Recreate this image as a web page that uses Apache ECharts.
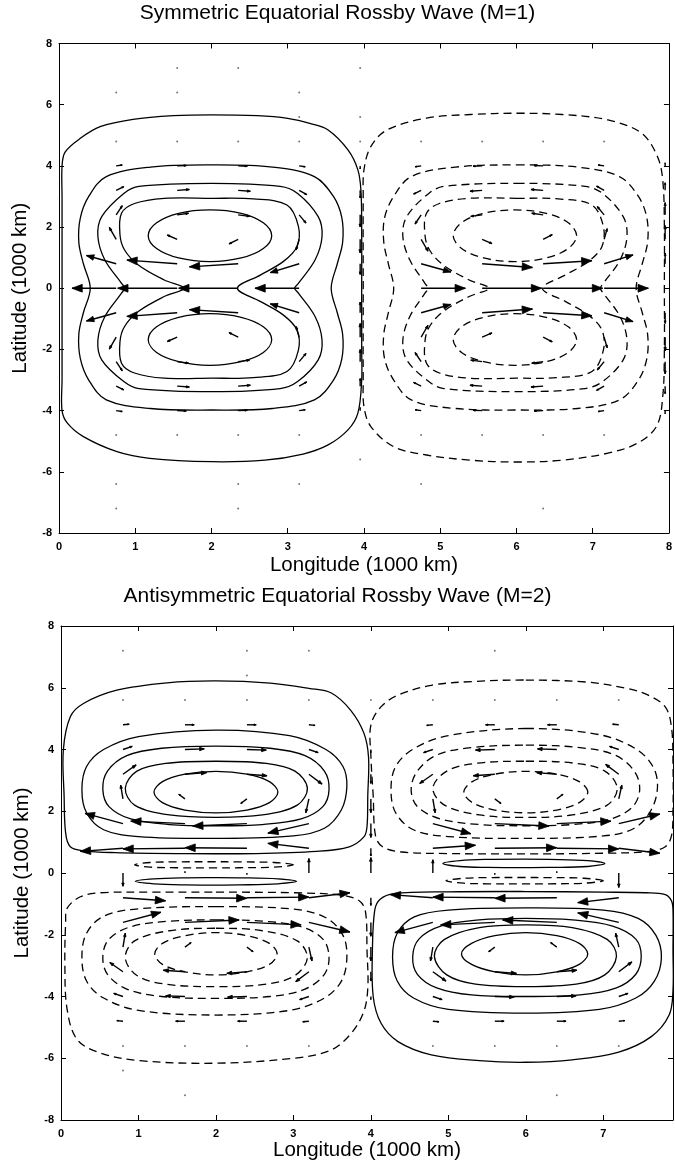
<!DOCTYPE html>
<html><head><meta charset="utf-8">
<script src="https://cdn.jsdelivr.net/npm/echarts@6/dist/echarts.min.js"></script>
<style>html,body{margin:0;padding:0;background:#fff}#c{width:675px;height:1170px}</style>
</head><body><div id="c"></div>
<script>
// ---------- Titles and axis texts ----------
const titleTop = 'Symmetric Equatorial Rossby Wave (M=1)';
const titleBottom = 'Antisymmetric Equatorial Rossby Wave (M=2)';
const xName = 'Longitude (1000 km)';
const yName = 'Latitude (1000 km)';

// ---------- Panel 1 (M=1) contour lines ----------
const m1SolidA = [[2.0,5.67],[2.6,5.64],[3.0,5.55],[3.3,5.38],[3.53,5.17],[3.79,4.52],[3.92,3.87],[3.96,3.2],[3.97,2.0],[3.97,0],[3.97,-2.0],[3.97,-3.0],[3.92,-4.08],[3.79,-4.63],[3.53,-5.12],[3.2,-5.42],[2.7,-5.62],[2.0,-5.67],[1.19,-5.56],[0.76,-5.34],[0.32,-4.85],[0.11,-4.41],[0.04,-4.0],[0.04,-3.0],[0.04,0],[0.04,3.0],[0.04,3.98],[0.08,4.45],[0.28,4.9],[0.54,5.28],[0.97,5.52],[1.5,5.64]];
const m1SolidB = [[2.0,4.03],[2.8,3.96],[3.35,3.65],[3.6,3.0],[3.71,2.3],[3.72,1.5],[3.65,0.8],[3.57,0],[3.65,-0.8],[3.72,-1.5],[3.71,-2.3],[3.6,-3.0],[3.35,-3.65],[2.8,-3.93],[2.0,-3.98],[1.2,-3.93],[0.62,-3.65],[0.39,-3.0],[0.28,-2.3],[0.26,-1.5],[0.32,-0.8],[0.41,0],[0.32,0.8],[0.26,1.5],[0.28,2.3],[0.39,3.0],[0.62,3.65],[1.2,3.96]];
const m1SolidC = [[2.0,3.43],[2.9,3.33],[3.13,3.1],[3.4,2.34],[3.45,1.69],[3.36,0.93],[3.14,0.16],[3.09,0],[3.14,-0.16],[3.36,-0.93],[3.45,-1.69],[3.4,-2.34],[3.13,-3.05],[2.9,-3.28],[2.0,-3.38],[1.05,-3.28],[0.85,-3.05],[0.56,-2.34],[0.51,-1.69],[0.6,-0.93],[0.82,-0.16],[0.86,0],[0.82,0.16],[0.6,0.93],[0.51,1.69],[0.56,2.34],[0.85,3.1],[1.05,3.33]];
const m1SolidD = [[2.0,2.94],[2.55,2.92],[2.99,2.72],[3.14,2.02],[3.12,1.36],[2.94,0.87],[2.64,0.43],[2.34,0],[2.64,-0.43],[2.94,-0.87],[3.12,-1.36],[3.14,-2.02],[2.99,-2.72],[2.55,-2.92],[2.0,-2.94],[1.38,-2.94],[0.99,-2.77],[0.82,-2.45],[0.8,-1.74],[0.86,-1.25],[1.04,-0.76],[1.38,-0.27],[1.64,0],[1.38,0.27],[1.04,0.76],[0.86,1.25],[0.8,1.74],[0.82,2.45],[0.99,2.77],[1.38,2.94]];
const m1SolidE1 = [[2.79,1.72],[2.68,2.14],[2.39,2.45],[1.98,2.56],[1.57,2.45],[1.28,2.14],[1.17,1.72],[1.28,1.3],[1.57,0.99],[1.98,0.87],[2.39,0.99],[2.68,1.3]];
const m1SolidE2 = [[2.79,-1.68],[2.68,-1.26],[2.39,-0.95],[1.98,-0.83],[1.57,-0.95],[1.28,-1.26],[1.17,-1.68],[1.28,-2.1],[1.57,-2.4],[1.98,-2.52],[2.39,-2.4],[2.68,-2.1]];

const m1DashA = [[6.0,5.72],[6.6,5.68],[7.2,5.5],[7.64,5.07],[7.85,4.3],[7.92,3.5],[7.94,2.0],[7.94,0],[7.94,-2.0],[7.92,-3.5],[7.84,-4.5],[7.59,-5.06],[7.2,-5.39],[6.6,-5.62],[6.0,-5.68],[5.4,-5.62],[4.82,-5.45],[4.39,-5.18],[4.09,-4.52],[4.0,-3.87],[3.99,-3.0],[3.99,0],[3.99,3.0],[4.0,3.87],[4.09,4.63],[4.3,5.17],[4.82,5.56],[5.4,5.68]];
const m1DashB = [[6.0,4.03],[6.8,3.96],[7.35,3.65],[7.6,3.0],[7.71,2.3],[7.72,1.5],[7.65,0.8],[7.57,0],[7.65,-0.8],[7.72,-1.5],[7.71,-2.3],[7.6,-3.0],[7.35,-3.65],[6.8,-3.93],[6.0,-3.98],[5.2,-3.93],[4.62,-3.65],[4.39,-3.0],[4.27,-2.3],[4.26,-1.5],[4.32,-0.8],[4.39,0],[4.32,0.8],[4.26,1.5],[4.27,2.3],[4.39,3.0],[4.62,3.65],[5.2,3.96]];
const m1DashC = [[6.0,3.43],[6.9,3.33],[7.13,3.1],[7.4,2.34],[7.45,1.69],[7.36,0.93],[7.14,0.16],[7.1,0],[7.14,-0.16],[7.36,-0.93],[7.45,-1.69],[7.4,-2.34],[7.13,-3.05],[6.9,-3.28],[6.0,-3.38],[5.05,-3.28],[4.85,-3.05],[4.56,-2.34],[4.51,-1.69],[4.6,-0.93],[4.8,-0.16],[4.84,0],[4.8,0.16],[4.6,0.93],[4.51,1.69],[4.56,2.34],[4.85,3.1],[5.05,3.33]];
const m1DashD = [[6.0,2.94],[6.55,2.92],[6.99,2.72],[7.14,2.02],[7.12,1.36],[6.94,0.87],[6.64,0.43],[6.34,0],[6.64,-0.43],[6.94,-0.87],[7.12,-1.36],[7.14,-2.02],[6.99,-2.72],[6.55,-2.92],[6.0,-2.94],[5.38,-2.94],[4.99,-2.77],[4.82,-2.45],[4.8,-1.74],[4.86,-1.25],[5.04,-0.76],[5.38,-0.27],[5.64,0],[5.38,0.27],[5.04,0.76],[4.86,1.25],[4.8,1.74],[4.82,2.45],[4.99,2.77],[5.38,2.94]];
const m1DashE1 = [[6.79,1.72],[6.68,2.14],[6.39,2.45],[5.98,2.56],[5.57,2.45],[5.28,2.14],[5.17,1.72],[5.28,1.3],[5.57,0.99],[5.98,0.87],[6.39,0.99],[6.68,1.3]];
const m1DashE2 = [[6.79,-1.68],[6.68,-1.26],[6.39,-0.95],[5.98,-0.83],[5.57,-0.95],[5.28,-1.26],[5.17,-1.68],[5.28,-2.1],[5.57,-2.4],[5.98,-2.52],[6.39,-2.4],[6.68,-2.1]];

// ---------- Panel 1 velocity vectors [x, y, u, v] ----------
const m1Arrows = [
 [0.75,4.0,0.08,0.03],[1.55,4.0,0.12,0.01],[2.35,4.0,0.12,-0.01],[3.15,4.0,0.08,-0.03],[3.95,4.0,0,-0.1],
 [0.75,3.2,0.1,0.12],[1.55,3.2,0.16,0.03],[2.35,3.2,0.16,-0.03],[3.15,3.2,0.1,-0.14],[3.95,3.2,0,-0.25],
 [0.75,2.4,0.08,0.3],[1.55,2.4,0.15,0.05],[2.35,2.4,0.15,-0.05],[3.15,2.4,0.09,-0.27],[3.95,2.4,0,-0.4],
 [0.75,1.6,-0.09,0.39],[1.55,1.6,-0.13,0.14],[2.35,1.6,-0.12,-0.15],[3.15,1.6,-0.04,-0.35],[3.95,1.6,0,-0.45],
 [0.75,0.8,-0.39,0.27],[1.55,0.8,-0.66,0.12],[2.35,0.8,-0.64,-0.1],[3.15,0.8,-0.38,-0.29],[3.95,0.8,0,-0.35],
 [0.75,0,-0.58,0],[1.55,0,-0.78,0],[2.35,0,-0.78,0],[3.15,0,-0.58,0],
 [0.75,-0.8,-0.39,-0.27],[1.55,-0.8,-0.66,-0.12],[2.35,-0.8,-0.64,0.1],[3.15,-0.8,-0.38,0.29],[3.95,-0.8,0,0.35],
 [0.75,-1.6,-0.09,-0.39],[1.55,-1.6,-0.13,-0.14],[2.35,-1.6,-0.12,0.15],[3.15,-1.6,-0.04,0.35],[3.95,-1.6,0,0.45],
 [0.75,-2.4,0.08,-0.3],[1.55,-2.4,0.15,-0.05],[2.35,-2.4,0.15,0.05],[3.15,-2.4,0.09,0.27],[3.95,-2.4,0,0.4],
 [0.75,-3.2,0.1,-0.12],[1.55,-3.2,0.16,-0.03],[2.35,-3.2,0.16,0.03],[3.15,-3.2,0.1,0.14],[3.95,-3.2,0,0.25],
 [0.75,-4.0,0.08,-0.03],[1.55,-4.0,0.12,-0.01],[2.35,-4.0,0.12,0.01],[3.15,-4.0,0.08,0.03],[3.95,-4.0,0,0.1],
 [4.75,4.0,-0.08,-0.03],[5.55,4.0,-0.12,-0.01],[6.35,4.0,-0.12,0.01],[7.15,4.0,-0.08,0.03],[7.95,4.0,0,0.1],
 [4.75,3.2,-0.1,-0.12],[5.55,3.2,-0.16,-0.03],[6.35,3.2,-0.16,0.03],[7.15,3.2,-0.1,0.14],[7.95,3.2,0,0.25],
 [4.75,2.4,-0.08,-0.3],[5.55,2.4,-0.15,-0.05],[6.35,2.4,-0.15,0.05],[7.15,2.4,-0.09,0.27],[7.95,2.4,0,0.4],
 [4.75,1.6,0.09,-0.39],[5.55,1.6,0.13,-0.14],[6.35,1.6,0.12,0.15],[7.15,1.6,0.04,0.35],[7.95,1.6,0,0.45],
 [4.75,0.8,0.39,-0.27],[5.55,0.8,0.66,-0.12],[6.35,0.8,0.64,0.1],[7.15,0.8,0.38,0.29],[7.95,0.8,0,0.35],
 [4.75,0,0.58,0],[5.55,0,0.78,0],[6.35,0,0.78,0],[7.15,0,0.58,0],
 [4.75,-0.8,0.39,0.27],[5.55,-0.8,0.66,0.12],[6.35,-0.8,0.64,-0.1],[7.15,-0.8,0.38,-0.29],[7.95,-0.8,0,-0.35],
 [4.75,-1.6,0.09,0.39],[5.55,-1.6,0.13,0.14],[6.35,-1.6,0.12,-0.15],[7.15,-1.6,0.04,-0.35],[7.95,-1.6,0,-0.45],
 [4.75,-2.4,-0.08,0.3],[5.55,-2.4,-0.15,0.05],[6.35,-2.4,-0.15,-0.05],[7.15,-2.4,-0.09,-0.27],[7.95,-2.4,0,-0.4],
 [4.75,-3.2,-0.1,0.12],[5.55,-3.2,-0.16,0.03],[6.35,-3.2,-0.16,-0.03],[7.15,-3.2,-0.1,-0.14],[7.95,-3.2,0,-0.25],
 [4.75,-4.0,-0.08,0.03],[5.55,-4.0,-0.12,0.01],[6.35,-4.0,-0.12,-0.01],[7.15,-4.0,-0.08,-0.03],[7.95,-4.0,0,-0.1]
];
const m1Dots = [[1.55,7.2],[2.35,7.2],[3.95,7.2],[0.75,6.4],[1.55,6.4],[3.15,6.4],[3.15,5.6],[3.95,5.6],
 [0.75,4.8],[1.55,4.8],[2.35,4.8],[3.15,4.8],[3.95,4.8],[4.75,4.8],[5.55,4.8],[6.35,4.8],[7.15,4.8],
 [0.75,-4.8],[1.55,-4.8],[2.35,-4.8],[3.15,-4.8],[4.75,-4.8],[5.55,-4.8],[6.35,-4.8],[7.15,-4.8],
 [3.95,-5.6],[0.75,-6.4],[2.35,-6.4],[3.15,-6.4],[4.75,-6.4],[0.75,-7.2],[2.35,-7.2],[6.35,-7.2]];

// ---------- Panel 2 (M=2) contour lines ----------
const m2SolidA_UL = [[2.0,6.22],[2.7,6.15],[3.2,5.98],[3.49,5.83],[3.74,5.27],[3.91,4.53],[3.97,3.75],[3.96,2.5],[3.95,1.5],[3.91,1.17],[3.72,0.85],[3.3,0.7],[2.5,0.63],[1.5,0.63],[0.7,0.66],[0.29,0.72],[0.12,0.85],[0.06,1.29],[0.04,2.5],[0.03,3.98],[0.12,5.06],[0.29,5.49],[0.72,5.92],[1.37,6.16]];
const m2SolidB_UL = [[2.0,4.63],[2.95,4.45],[3.42,4.0],[3.64,3.45],[3.69,2.8],[3.62,2.05],[3.4,1.45],[3.0,1.2],[2.0,1.12],[1.0,1.18],[0.55,1.4],[0.33,1.95],[0.27,2.7],[0.33,3.45],[0.55,4.0],[1.0,4.42]];
const m2SolidC_UL = [[2.0,4.11],[2.7,4.04],[3.15,3.8],[3.4,3.3],[3.46,2.7],[3.38,2.15],[3.1,1.75],[2.6,1.57],[2.0,1.53],[1.4,1.57],[0.9,1.75],[0.62,2.15],[0.54,2.7],[0.6,3.3],[0.85,3.8],[1.3,4.04]];
const m2SolidD_UL = [[2.0,3.62],[2.65,3.55],[3.02,3.3],[3.18,2.75],[3.05,2.2],[2.6,1.88],[2.0,1.8],[1.4,1.88],[0.95,2.2],[0.83,2.75],[0.98,3.3],[1.35,3.55]];
const m2SolidE_UL = [[2.8,2.62],[2.69,2.96],[2.4,3.2],[2.0,3.29],[1.6,3.2],[1.31,2.96],[1.2,2.62],[1.31,2.28],[1.6,2.04],[2.0,1.95],[2.4,2.04],[2.69,2.28]];
const m2SolidThinL = [[3.04,-0.27],[2.8,-0.19],[2.3,-0.155],[2.0,-0.15],[1.6,-0.155],[1.2,-0.19],[0.96,-0.27],[1.2,-0.35],[1.6,-0.385],[2.0,-0.39],[2.3,-0.385],[2.8,-0.35]];
const m2DashThinL = [[3.0,0.265],[2.75,0.34],[2.3,0.36],[1.97,0.365],[1.5,0.36],[1.15,0.34],[0.95,0.265],[1.15,0.19],[1.5,0.17],[1.97,0.165],[2.3,0.17],[2.75,0.19]];
const m2DashA_LL = [[2.0,-0.62],[3.0,-0.64],[3.63,-0.72],[3.85,-0.9],[3.93,-1.25],[3.95,-2.5],[3.96,-3.75],[3.9,-4.55],[3.72,-5.27],[3.47,-5.75],[3.0,-6.0],[2.0,-6.16],[1.02,-6.08],[0.51,-5.83],[0.21,-5.4],[0.08,-4.43],[0.05,-3.0],[0.06,-1.6],[0.08,-1.14],[0.25,-0.77],[0.51,-0.64],[1.2,-0.62]];
const m2DashB_LL = [[2.0,-1.09],[3.0,-1.17],[3.42,-1.45],[3.64,-2.02],[3.69,-2.75],[3.62,-3.5],[3.4,-4.05],[2.95,-4.45],[2.0,-4.6],[1.0,-4.45],[0.55,-4.05],[0.33,-3.5],[0.27,-2.72],[0.33,-1.95],[0.55,-1.4],[1.0,-1.16]];
const m2DashC_LL = [[2.0,-1.52],[2.6,-1.56],[3.1,-1.74],[3.38,-2.14],[3.46,-2.7],[3.4,-3.28],[3.15,-3.76],[2.7,-4.0],[2.0,-4.06],[1.3,-4.0],[0.85,-3.76],[0.6,-3.28],[0.54,-2.7],[0.62,-2.14],[0.9,-1.74],[1.4,-1.56]];
const m2DashD_LL = [[2.0,-1.79],[2.6,-1.87],[3.05,-2.2],[3.18,-2.75],[3.02,-3.32],[2.65,-3.6],[2.0,-3.68],[1.35,-3.6],[0.98,-3.32],[0.83,-2.75],[0.95,-2.2],[1.4,-1.87]];
const m2DashE_LL = [[2.79,-2.62],[2.69,-2.28],[2.4,-2.03],[2.0,-1.93],[1.6,-2.03],[1.31,-2.28],[1.21,-2.62],[1.31,-2.96],[1.6,-3.2],[2.0,-3.3],[2.4,-3.2],[2.69,-2.96]];

const m2DashA_UR = [[6.0,6.25],[6.8,6.18],[7.3,5.98],[7.58,5.76],[7.8,5.38],[7.88,4.73],[7.9,3.5],[7.9,2.0],[7.88,1.2],[7.8,0.85],[7.6,0.7],[7.0,0.64],[6.0,0.62],[5.0,0.63],[4.4,0.68],[4.15,0.85],[4.06,1.2],[4.03,2.5],[4.0,3.8],[4.0,4.79],[4.13,5.38],[4.35,5.76],[4.78,6.08],[5.3,6.2]];
const m2DashB_UR = [[6.0,4.68],[6.95,4.48],[7.42,4.02],[7.64,3.45],[7.7,2.8],[7.62,2.05],[7.4,1.45],[7.0,1.2],[6.0,1.12],[5.0,1.18],[4.55,1.4],[4.32,1.95],[4.26,2.7],[4.32,3.45],[4.55,4.02],[5.0,4.45]];
const m2DashC_UR = [[6.0,4.14],[6.7,4.06],[7.15,3.82],[7.4,3.3],[7.47,2.7],[7.38,2.15],[7.1,1.75],[6.6,1.57],[6.0,1.53],[5.4,1.57],[4.9,1.75],[4.6,2.15],[4.52,2.7],[4.6,3.3],[4.85,3.82],[5.3,4.06]];
const m2DashD_UR = [[6.0,3.62],[6.65,3.55],[7.02,3.3],[7.18,2.75],[7.05,2.2],[6.6,1.88],[6.0,1.8],[5.4,1.88],[4.95,2.2],[4.8,2.75],[4.98,3.3],[5.35,3.55]];
const m2DashE_UR = [[6.8,2.62],[6.69,2.96],[6.4,3.2],[6.0,3.29],[5.6,3.2],[5.31,2.96],[5.2,2.62],[5.31,2.28],[5.6,2.04],[6.0,1.95],[6.4,2.04],[6.69,2.28]];
const m2SolidThinR = [[7.02,0.31],[6.8,0.4],[6.3,0.44],[5.97,0.45],[5.5,0.44],[5.15,0.4],[4.93,0.31],[5.15,0.21],[5.5,0.18],[5.97,0.175],[6.3,0.18],[6.8,0.21]];
const m2DashThinR = [[7.0,-0.25],[6.75,-0.17],[6.3,-0.15],[5.97,-0.145],[5.5,-0.15],[5.2,-0.17],[4.97,-0.25],[5.2,-0.33],[5.5,-0.35],[5.97,-0.355],[6.3,-0.35],[6.75,-0.33]];
const m2SolidA_LR = [[6.0,-0.6],[7.0,-0.62],[7.55,-0.64],[7.8,-0.7],[7.88,-0.9],[7.9,-1.2],[7.9,-2.5],[7.9,-3.8],[7.85,-4.6],[7.62,-5.3],[7.2,-5.8],[6.6,-6.05],[6.0,-6.13],[5.4,-6.08],[4.78,-5.89],[4.35,-5.46],[4.13,-4.86],[4.03,-4.0],[4.02,-2.5],[4.05,-1.2],[4.12,-0.85],[4.3,-0.67],[5.0,-0.61]];
const m2SolidB_LR = [[6.0,-1.13],[7.0,-1.2],[7.45,-1.47],[7.68,-2.02],[7.75,-2.75],[7.66,-3.5],[7.42,-4.05],[6.95,-4.42],[6.0,-4.54],[5.0,-4.42],[4.55,-4.05],[4.34,-3.5],[4.28,-2.72],[4.34,-1.95],[4.56,-1.42],[5.0,-1.2]];
const m2SolidC_LR = [[6.0,-1.47],[6.6,-1.52],[7.12,-1.72],[7.42,-2.14],[7.49,-2.7],[7.42,-3.28],[7.17,-3.72],[6.7,-3.95],[6.0,-4.0],[5.3,-3.95],[4.85,-3.72],[4.6,-3.28],[4.54,-2.7],[4.62,-2.14],[4.9,-1.72],[5.4,-1.52]];
const m2SolidD_LR = [[6.0,-1.68],[6.6,-1.77],[7.05,-2.15],[7.17,-2.7],[7.02,-3.3],[6.65,-3.6],[6.0,-3.68],[5.35,-3.6],[4.98,-3.3],[4.82,-2.7],[4.95,-2.15],[5.4,-1.77]];
const m2SolidE_LR = [[6.8,-2.62],[6.69,-2.28],[6.4,-2.03],[6.0,-1.93],[5.6,-2.03],[5.3,-2.28],[5.17,-2.62],[5.3,-2.96],[5.6,-3.2],[6.0,-3.3],[6.4,-3.2],[6.69,-2.96]];

// ---------- Panel 2 velocity vectors [x, y, u, v] ----------
const m2Arrows = [
 [0.8,4.8,0.08,0.02],[1.6,4.8,0.12,0],[2.4,4.8,0.12,0],[3.2,4.8,0.08,-0.02],
 [0.8,4.0,0.12,0.1],[1.6,4.0,0.25,0.02],[2.4,4.0,0.25,-0.02],[3.2,4.0,0.12,-0.1],
 [0.8,3.2,0.17,0.3],[1.6,3.2,0.28,0.05],[2.4,3.2,0.26,-0.05],[3.2,3.2,0.17,-0.32],
 [0.8,2.4,-0.03,0.45],[1.6,2.4,-0.08,0.15],[2.4,2.4,-0.08,-0.15],[3.2,2.4,-0.04,-0.45],
 [0.8,1.6,-0.49,0.33],[1.6,1.6,-0.7,0.08],[2.4,1.6,-0.7,-0.08],[3.2,1.6,-0.53,-0.31],
 [0.8,0.8,-0.55,-0.1],[1.6,0.8,-0.8,-0.02],[2.4,0.8,-0.8,0.02],[3.2,0.8,-0.53,0.16],
 [0.8,0,0,-0.43],[1.6,0,0,0.05],[2.4,0,0,-0.05],[3.2,0,0,0.47],
 [0.8,-0.8,0.55,-0.1],[1.6,-0.8,0.8,-0.02],[2.4,-0.8,0.8,0.02],[3.2,-0.8,0.53,0.16],
 [0.8,-1.6,0.49,0.33],[1.6,-1.6,0.7,0.08],[2.4,-1.6,0.7,-0.08],[3.2,-1.6,0.53,-0.31],
 [0.8,-2.4,0.03,0.45],[1.6,-2.4,0.08,0.15],[2.4,-2.4,0.08,-0.15],[3.2,-2.4,0.04,-0.45],
 [0.8,-3.2,-0.17,0.3],[1.6,-3.2,-0.28,0.05],[2.4,-3.2,-0.26,-0.05],[3.2,-3.2,-0.17,-0.32],
 [0.8,-4.0,-0.12,0.1],[1.6,-4.0,-0.25,0.02],[2.4,-4.0,-0.25,-0.02],[3.2,-4.0,-0.12,-0.1],
 [0.8,-4.8,-0.08,0.02],[1.6,-4.8,-0.12,0],[2.4,-4.8,-0.12,0],[3.2,-4.8,-0.08,-0.02],
 [4.0,4.0,0,-0.1],[4.0,3.2,0,-0.3],[4.0,2.4,0,-0.45],[4.0,1.6,0,-0.45],[4.0,0.8,0,-0.25],[4.0,0,0,0.5],
 [4.0,-0.8,0,-0.25],[4.0,-1.6,0,-0.45],[4.0,-2.4,0,-0.45],[4.0,-3.2,0,-0.3],[4.0,-4.0,0,-0.1],
 [4.8,4.8,-0.08,-0.02],[5.6,4.8,-0.12,0],[6.4,4.8,-0.12,0],[7.2,4.8,-0.08,0.02],
 [4.8,4.0,-0.12,-0.1],[5.6,4.0,-0.25,-0.02],[6.4,4.0,-0.25,0.02],[7.2,4.0,-0.12,0.1],
 [4.8,3.2,-0.17,-0.3],[5.6,3.2,-0.28,-0.05],[6.4,3.2,-0.26,0.05],[7.2,3.2,-0.17,0.32],
 [4.8,2.4,0.03,-0.45],[5.6,2.4,0.08,-0.15],[6.4,2.4,0.08,0.15],[7.2,2.4,0.04,0.45],
 [4.8,1.6,0.49,-0.33],[5.6,1.6,0.7,-0.08],[6.4,1.6,0.7,0.08],[7.2,1.6,0.53,0.31],
 [4.8,0.8,0.55,0.1],[5.6,0.8,0.8,0.02],[6.4,0.8,0.8,-0.02],[7.2,0.8,0.53,-0.16],
 [4.8,0,0,0.43],[5.6,0,0,-0.05],[6.4,0,0,0.05],[7.2,0,0,-0.47],
 [4.8,-0.8,-0.55,0.1],[5.6,-0.8,-0.8,0.02],[6.4,-0.8,-0.8,-0.02],[7.2,-0.8,-0.53,-0.16],
 [4.8,-1.6,-0.49,-0.33],[5.6,-1.6,-0.7,-0.08],[6.4,-1.6,-0.7,0.08],[7.2,-1.6,-0.53,0.31],
 [4.8,-2.4,-0.03,-0.45],[5.6,-2.4,-0.08,-0.15],[6.4,-2.4,-0.08,0.15],[7.2,-2.4,-0.04,0.45],
 [4.8,-3.2,0.17,-0.3],[5.6,-3.2,0.28,-0.05],[6.4,-3.2,0.26,0.05],[7.2,-3.2,0.17,0.32],
 [4.8,-4.0,0.12,-0.1],[5.6,-4.0,0.25,-0.02],[6.4,-4.0,0.25,0.02],[7.2,-4.0,0.12,0.1],
 [4.8,-4.8,0.08,-0.02],[5.6,-4.8,0.12,0],[6.4,-4.8,0.12,0],[7.2,-4.8,0.08,0.02]
];
const m2Dots = [[0.8,7.2],[2.4,7.2],[3.2,7.2],[5.6,7.2],[2.4,6.4],[0.8,5.6],[1.6,5.6],[2.4,5.6],[3.2,5.6],[4.0,5.6],[4.8,5.6],[5.6,5.6],[6.4,5.6],[7.2,5.6],
 [0.8,-5.6],[1.6,-5.6],[2.4,-5.6],[3.2,-5.6],[4.8,-5.6],[5.6,-5.6],[6.4,-5.6],[7.2,-5.6],[0.8,-6.4],[1.6,-7.2],[6.4,-7.2]];

const m1Solid = [m1SolidA, m1SolidB, m1SolidC, m1SolidD, m1SolidE1, m1SolidE2];
const m1Dashed = [m1DashA, m1DashB, m1DashC, m1DashD, m1DashE1, m1DashE2];
const m2Solid = [m2SolidA_UL, m2SolidB_UL, m2SolidC_UL, m2SolidD_UL, m2SolidE_UL, m2SolidThinL, m2SolidThinR, m2SolidA_LR, m2SolidB_LR, m2SolidC_LR, m2SolidD_LR, m2SolidE_LR];
const m2Dashed = [m2DashThinL, m2DashA_LL, m2DashB_LL, m2DashC_LL, m2DashD_LL, m2DashE_LL, m2DashA_UR, m2DashB_UR, m2DashC_UR, m2DashD_UR, m2DashE_UR, m2DashThinR];

// ---------- Rendering ----------
const FONT = 'Liberation Sans, Arial, Helvetica, sans-serif';
const chart = echarts.init(document.getElementById('c'), null, {renderer: 'canvas'});

function contourSeries(gi, curves, dashed) {
  return {
    type: 'custom', coordinateSystem: 'cartesian2d', xAxisIndex: gi * 2, yAxisIndex: gi * 2,
    silent: true, clip: true, animation: false, z: 2,
    data: curves.map((c, i) => [i, 0]),
    renderItem: function (params, api) {
      const pts = curves[api.value(0)].map(p => api.coord(p));
      return {type: 'polygon', shape: {points: pts, smooth: 0.35},
        style: {fill: 'none', stroke: '#000', lineWidth: 1.3, lineDash: dashed ? [8, 5] : null}};
    }
  };
}
function arrowSeries(gi, arr) {
  return {
    type: 'custom', coordinateSystem: 'cartesian2d', xAxisIndex: gi * 2, yAxisIndex: gi * 2,
    silent: true, clip: true, animation: false, z: 3, data: arr, encode: {x: 0, y: 1},
    renderItem: function (params, api) {
      const x = api.value(0), y = api.value(1), u = api.value(2), v = api.value(3);
      const a = api.coord([x, y]), b = api.coord([x + u, y + v]);
      const dx = b[0] - a[0], dy = b[1] - a[1], L = Math.hypot(dx, dy);
      if (L < 1) return {type: 'circle', shape: {cx: a[0], cy: a[1], r: 0.9}, style: {fill: '#222'}};
      const th = Math.atan2(dy, dx), h = Math.min(0.26 * L, 11), ang = 0.36;
      const l = [b[0] - h * Math.cos(th - ang), b[1] - h * Math.sin(th - ang)];
      const r = [b[0] - h * Math.cos(th + ang), b[1] - h * Math.sin(th + ang)];
      return {type: 'group', children: [
        {type: 'line', shape: {x1: a[0], y1: a[1], x2: b[0], y2: b[1]}, style: {stroke: '#000', lineWidth: 1.4}},
        {type: 'polygon', shape: {points: [l, b, r]}, style: {fill: '#000', stroke: '#000', lineWidth: 0.8}}
      ]};
    }
  };
}
function dotSeries(gi, dots) {
  return {type: 'scatter', xAxisIndex: gi * 2, yAxisIndex: gi * 2, data: dots, symbolSize: 2,
    itemStyle: {color: '#555'}, silent: true, animation: false, z: 3};
}
const tickStyle = {inside: true, length: 5, lineStyle: {color: '#000', width: 1}};
const lineStyle = {show: true, onZero: false, lineStyle: {color: '#000', width: 1}};
const labelStyle = {color: '#000', fontSize: 11, fontWeight: 'bold', fontFamily: FONT};
const nameStyle = {color: '#000', fontSize: 20.5, fontFamily: FONT};

function xAxes(gi, xmax, gap) {
  return [
    {gridIndex: gi, type: 'value', min: 0, max: xmax, interval: 1, position: 'bottom',
      axisLine: lineStyle, axisTick: tickStyle, splitLine: {show: false},
      axisLabel: Object.assign({margin: 8, showMaxLabel: xmax === 8}, labelStyle),
      name: xName, nameLocation: 'middle', nameGap: gap, nameTextStyle: nameStyle},
    {gridIndex: gi, type: 'value', min: 0, max: xmax, interval: 1, position: 'top',
      axisLine: lineStyle, axisTick: tickStyle, splitLine: {show: false}, axisLabel: {show: false}}
  ];
}
function yAxes(gi) {
  return [
    {gridIndex: gi, type: 'value', min: -8, max: 8, interval: 2, position: 'left',
      axisLine: lineStyle, axisTick: tickStyle, splitLine: {show: false},
      axisLabel: Object.assign({margin: 7}, labelStyle),
      name: yName, nameLocation: 'middle', nameGap: 28, nameTextStyle: nameStyle},
    {gridIndex: gi, type: 'value', min: -8, max: 8, interval: 2, position: 'right',
      axisLine: lineStyle, axisTick: tickStyle, splitLine: {show: false}, axisLabel: {show: false}}
  ];
}

chart.setOption({
  backgroundColor: '#fff',
  animation: false,
  title: [
    {text: titleTop, left: 'center', top: 3, padding: 0, textStyle: {fontSize: 21, fontWeight: 'normal', fontFamily: FONT, color: '#000'}},
    {text: titleBottom, left: 'center', top: 586, padding: 0, textStyle: {fontSize: 21, fontWeight: 'normal', fontFamily: FONT, color: '#000'}}
  ],
  grid: [
    {left: 59, top: 43.5, width: 615, height: 489.5},
    {left: 61, top: 626, width: 612, height: 494}
  ],
  xAxis: [...xAxes(0, 8, 22), ...xAxes(1, 7.9, 19)],
  yAxis: [...yAxes(0), ...yAxes(1)],
  series: [
    contourSeries(0, m1Solid, false), contourSeries(0, m1Dashed, true),
    arrowSeries(0, m1Arrows), dotSeries(0, m1Dots),
    contourSeries(1, m2Solid, false), contourSeries(1, m2Dashed, true),
    arrowSeries(1, m2Arrows), dotSeries(1, m2Dots)
  ]
});
</script></body></html>
